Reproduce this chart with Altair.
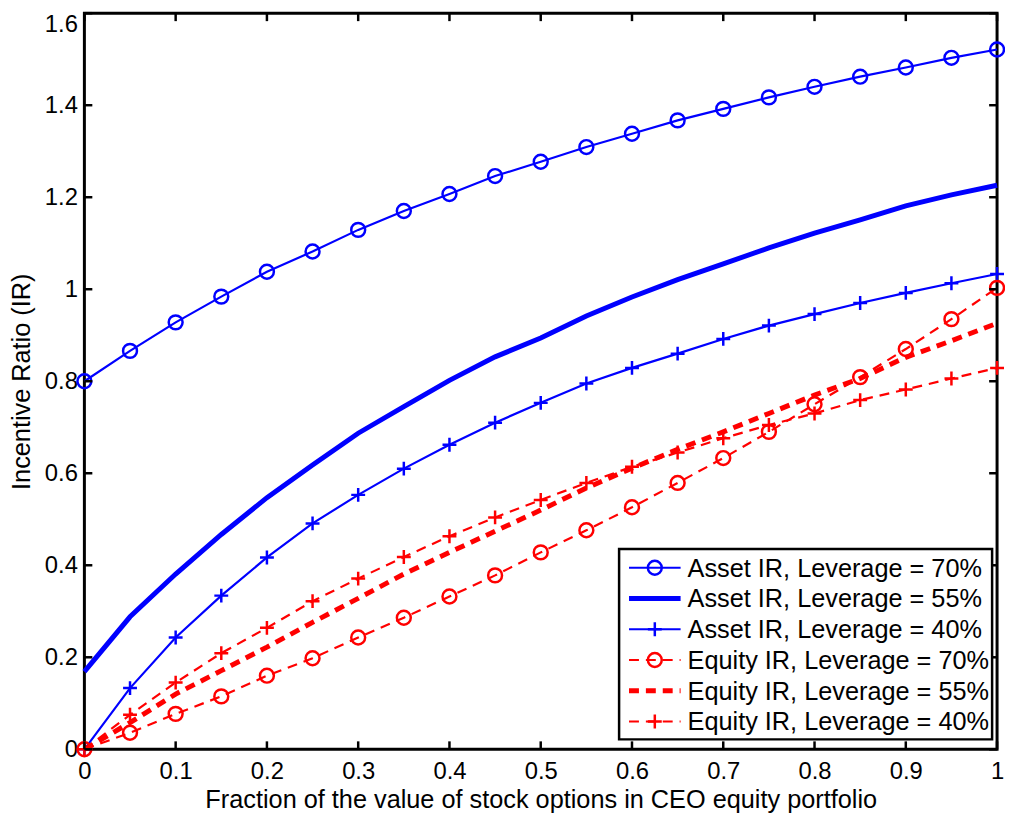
import altair as alt
import pandas as pd

# ---------------- data ----------------
x_vals = [0, 0.05, 0.1, 0.15, 0.2, 0.25, 0.3, 0.35, 0.4, 0.45, 0.5,
          0.55, 0.6, 0.65, 0.7, 0.75, 0.8, 0.85, 0.9, 0.95, 1.0]

asset70 = [0.800, 0.866, 0.928, 0.984, 1.038, 1.082, 1.129, 1.170, 1.207, 1.246, 1.277,
           1.309, 1.338, 1.367, 1.392, 1.417, 1.440, 1.462, 1.482, 1.503, 1.521]
asset55 = [0.169, 0.288, 0.381, 0.467, 0.547, 0.618, 0.687, 0.745, 0.802, 0.853, 0.894,
           0.942, 0.983, 1.021, 1.055, 1.090, 1.122, 1.151, 1.181, 1.205, 1.226]
asset40 = [0.000, 0.133, 0.243, 0.334, 0.417, 0.491, 0.553, 0.610, 0.662, 0.710, 0.753,
           0.795, 0.829, 0.860, 0.892, 0.921, 0.946, 0.970, 0.992, 1.013, 1.033]
equity70 = [0.000, 0.036, 0.077, 0.115, 0.160, 0.198, 0.243, 0.286, 0.332, 0.378, 0.428,
            0.476, 0.526, 0.579, 0.633, 0.690, 0.750, 0.809, 0.870, 0.935, 1.003]
equity55 = [0.000, 0.058, 0.120, 0.171, 0.222, 0.276, 0.328, 0.381, 0.428, 0.474, 0.520,
            0.568, 0.611, 0.652, 0.690, 0.730, 0.770, 0.806, 0.852, 0.888, 0.926]
equity40 = [0.000, 0.075, 0.145, 0.209, 0.264, 0.322, 0.371, 0.418, 0.463, 0.504, 0.542,
            0.579, 0.614, 0.645, 0.676, 0.705, 0.730, 0.759, 0.782, 0.806, 0.829]

series_labels = ["Asset IR, Leverage = 70%", "Asset IR, Leverage = 55%",
                 "Asset IR, Leverage = 40%", "Equity IR, Leverage = 70%",
                 "Equity IR, Leverage = 55%", "Equity IR, Leverage = 40%"]
series_values = [asset70, asset55, asset40, equity70, equity55, equity40]

x_ticks = [0, 0.1, 0.2, 0.3, 0.4, 0.5, 0.6, 0.7, 0.8, 0.9, 1]
y_ticks = [0, 0.2, 0.4, 0.6, 0.8, 1.0, 1.2, 1.4, 1.6]

# ---------------- style ----------------
W, H = 920, 742
BLUE = "#0000ff"
RED = "#ff0000"
FONT = "Liberation Sans"
CROSS = "M-1,0L1,0M0,-1L0,1"
DASH = [10, 7]
THIN, THICK, MSTROKE, MSIZE = 2.2, 5, 2.5, 196

# color, line width, dash, marker shape
styles = [
    (BLUE, THIN, None, "circle"),
    (BLUE, THICK, None, None),
    (BLUE, THIN, None, CROSS),
    (RED, THIN, DASH, "circle"),
    (RED, THICK, DASH, None),
    (RED, THIN, DASH, CROSS),
]

xs = alt.Scale(domain=[0, 1], nice=False, zero=False)
ys = alt.Scale(domain=[0, 1.6], nice=False, zero=False)
xaxis = alt.Axis(values=x_ticks, format="~g",
                 title="Fraction of the value of stock options in CEO equity portfolio",
                 domain=False, ticks=False, grid=False, labelFlush=False,
                 labelPadding=10, titlePadding=5, labelFontSize=24, titleFontSize=25.5)
yaxis = alt.Axis(values=y_ticks, format="~g", title="Incentive Ratio (IR)",
                 domain=False, ticks=False, grid=False, labelFlush=False,
                 labelOffset=alt.condition("datum.value >= 1.55", alt.value(11), alt.value(0)),
                 labelPadding=7, titlePadding=10, labelFontSize=24, titleFontSize=25.5)

layers = []
for vals, (col, lw, dash, shape) in zip(series_values, styles):
    df = pd.DataFrame({"x": x_vals, "y": vals})
    lkw = dict(color=col, strokeWidth=lw)
    if dash:
        lkw["strokeDash"] = dash
    enc = dict(x=alt.X("x:Q", scale=xs, axis=xaxis), y=alt.Y("y:Q", scale=ys, axis=yaxis))
    layers.append(alt.Chart(df).mark_line(**lkw).encode(**enc))
    if shape:
        layers.append(alt.Chart(df).mark_point(shape=shape, filled=False, size=MSIZE,
                                               strokeWidth=MSTROKE, color=col, opacity=1)
                      .encode(**enc))

# inward ticks (MATLAB style)
xt = pd.DataFrame({"t": x_ticks})
yt = pd.DataFrame({"t": y_ticks})
TL = 8
for (ya, yb) in [(H, H - TL), (0, TL)]:
    layers.append(alt.Chart(xt).mark_rule(color="black", strokeWidth=2.5).encode(
        x=alt.X("t:Q", scale=xs, axis=xaxis), y=alt.value(ya), y2=alt.value(yb)))
for (xa, xb) in [(0, TL), (W, W - TL)]:
    layers.append(alt.Chart(yt).mark_rule(color="black", strokeWidth=2.5).encode(
        y=alt.Y("t:Q", scale=ys, axis=yaxis), x=alt.value(xa), x2=alt.value(xb)))

# legend box
one = pd.DataFrame({"a": [0]})
layers.append(alt.Chart(one).mark_rect(fill="white", stroke="black", strokeWidth=2.5).encode(
    x=alt.value(539), x2=alt.value(915), y=alt.value(540), y2=alt.value(732)))

row_y = [559, 590, 621, 652, 683, 714]
for lab, ry, (col, lw, dash, shape) in zip(series_labels, row_y, styles):
    d = pd.DataFrame({"label": [lab]})
    rkw = dict(color=col, strokeWidth=lw)
    if dash:
        rkw["strokeDash"] = DASH
    layers.append(alt.Chart(d).mark_rule(**rkw).encode(
        x=alt.value(549), x2=alt.value(601), y=alt.value(ry)))
    if shape:
        layers.append(alt.Chart(d).mark_point(shape=shape, filled=False, size=MSIZE,
                                              strokeWidth=MSTROKE, color=col, opacity=1).encode(
            x=alt.value(575), y=alt.value(ry)))
    layers.append(alt.Chart(d).mark_text(align="left", baseline="middle", fontSize=25.5,
                                         font=FONT, color="black").encode(
        x=alt.value(608), y=alt.value(ry + 1), text="label:N"))

chart = alt.layer(*layers).properties(
    width=W, height=H,
    autosize=alt.AutoSizeParams(type="none"),
    padding={"left": 77, "top": 2, "right": 8, "bottom": 64},
).configure(font=FONT).configure_view(
    stroke="black", strokeWidth=3
).configure_axis(
    labelFont=FONT, titleFont=FONT, labelColor="black", titleColor="black",
    titleFontWeight="normal"
)

chart.save("out.html", embed_options={"renderer": "svg", "actions": False})
